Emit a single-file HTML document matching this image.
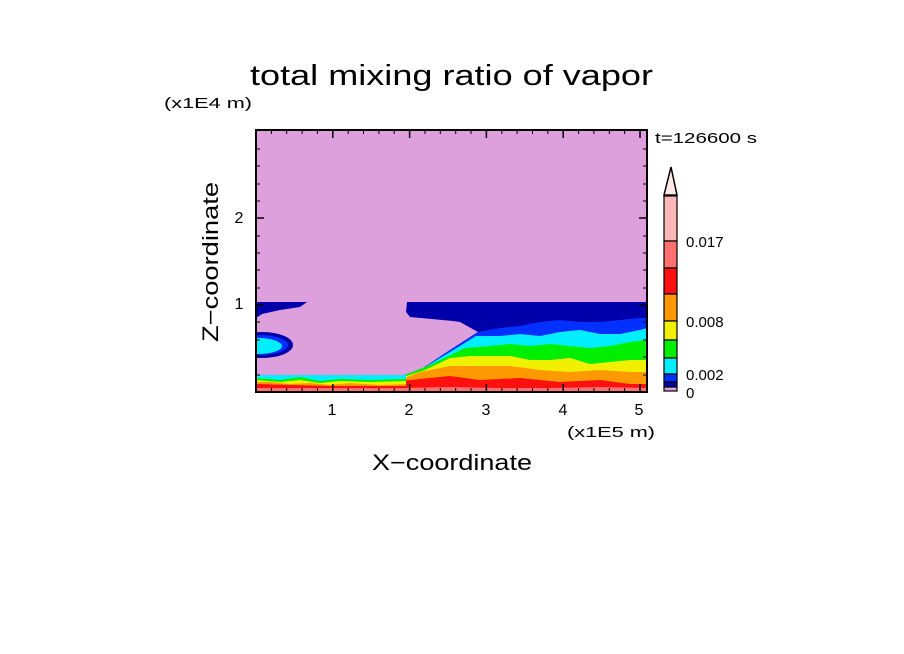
<!DOCTYPE html>
<html><head><meta charset="utf-8"><style>
html,body{margin:0;padding:0;background:#fff;}
svg{display:block;font-family:"Liberation Sans",sans-serif;}
</style></head><body>
<svg width="904" height="654" viewBox="0 0 904 654" xmlns="http://www.w3.org/2000/svg">
<rect width="904" height="654" fill="#fff"/>
<text x="250" y="85" font-size="29" textLength="403" lengthAdjust="spacingAndGlyphs">total mixing ratio of vapor</text>
<text x="164" y="108" font-size="15" textLength="88" lengthAdjust="spacingAndGlyphs">(x1E4 m)</text>
<text x="655" y="143" font-size="15" textLength="102" lengthAdjust="spacingAndGlyphs">t=126600 s</text>
<text x="567" y="437" font-size="15" textLength="88" lengthAdjust="spacingAndGlyphs">(x1E5 m)</text>
<text x="372" y="470" font-size="22" textLength="160" lengthAdjust="spacingAndGlyphs">X−coordinate</text>
<text transform="translate(218,342) rotate(-90)" font-size="22" textLength="160" lengthAdjust="spacingAndGlyphs">Z−coordinate</text>
<g font-size="16" text-anchor="middle">
<text x="332" y="415">1</text><text x="409" y="415">2</text><text x="486" y="415">3</text><text x="563" y="415">4</text><text x="639" y="415">5</text>
<text x="239" y="309">1</text><text x="239" y="223">2</text>
</g>
<clipPath id="c"><rect x="256" y="130" width="391" height="262"/></clipPath>
<g clip-path="url(#c)">
<rect x="256" y="130" width="391" height="262" fill="#dda0dd"/>
<polygon points="256,302 307,302 300,307 280,310 262,314 256,318" fill="#0000aa"/>
<ellipse cx="262" cy="345" rx="31" ry="13" fill="#0000aa"/>
<ellipse cx="260" cy="345" rx="28" ry="10" fill="#0030ff"/>
<ellipse cx="258" cy="346" rx="24" ry="8" fill="#00eeff"/>
<polygon points="407,302 647,302 647,392 400,392 400,376 420,370 450,350 478,332 460,322 453,321 410,317 406,312" fill="#0000aa"/>
<polygon points="478,332 500,328 520,326 540,322 560,320 580,322 600,322 620,320 640,318 647,318 647,392 400,392 400,376 420,370 450,350" fill="#0030ff"/>
<polygon points="476,336 500,336 520,334 540,336 560,332 580,330 600,334 620,334 640,330 647,328 647,392 400,392 400,376 420,370 450,352" fill="#00eeff"/>
<polygon points="465,348 490,346 510,344 530,346 550,344 570,346 590,348 610,346 630,342 647,340 647,392 400,392 400,377 430,365" fill="#00ee00"/>
<polygon points="450,358 470,356 490,356 510,356 530,360 550,360 570,358 590,364 610,362 630,360 647,360 647,392 400,392 400,378 425,370" fill="#f0f000"/>
<polygon points="405,378 420,372 450,366 480,366 510,366 540,370 570,372 600,370 630,372 647,372 647,392 400,392" fill="#ff9900"/>
<polygon points="400,381 450,376 480,380 520,378 560,382 600,380 630,384 647,384 647,392 400,392" fill="#ff1010"/>
<polygon points="400,388 450,387 500,388 550,388 600,387 647,388 647,392 400,392" fill="#ff7070"/>
<rect x="256" y="375" width="150" height="17" fill="#00eeff"/>
<polygon points="256,378 280,380 300,377 320,381 340,379 370,380 406,379 406,392 256,392" fill="#00ee00"/>
<polygon points="256,380 280,382 300,380 320,383 340,381 370,382 406,381 406,392 256,392" fill="#f0f000"/>
<polygon points="256,382 270,382 290,384 310,383 330,385 350,383 380,385 406,384 406,392 256,392" fill="#ff9900"/>
<polygon points="256,384 330,386 406,386 406,392 256,392" fill="#ff1010"/>
<rect x="256" y="388" width="150" height="4" fill="#ff7070"/>
</g>
<rect x="256" y="130" width="391" height="262" fill="none" stroke="#000" stroke-width="2"/>
<g stroke="#000" stroke-width="1.5">
<path d="M332.8,392v-8M409.6,392v-8M486.4,392v-8M563.2,392v-8M640,392v-8M332.8,130v8M409.6,130v8M486.4,130v8M563.2,130v8M640,130v8"/>
<path d="M256,305h8M256,218h8M647,305h-8M647,218h-8"/>
</g>
<g stroke="#000" stroke-width="1">
<path d="M271.4,392v-4M286.7,392v-4M302.1,392v-4M317.4,392v-4M348.2,392v-4M363.5,392v-4M378.9,392v-4M394.2,392v-4M425,392v-4M440.3,392v-4M455.7,392v-4M471,392v-4M501.8,392v-4M517.1,392v-4M532.5,392v-4M547.8,392v-4M578.6,392v-4M593.9,392v-4M609.3,392v-4M624.6,392v-4"/>
<path d="M271.4,130v4M286.7,130v4M302.1,130v4M317.4,130v4M348.2,130v4M363.5,130v4M378.9,130v4M394.2,130v4M425,130v4M440.3,130v4M455.7,130v4M471,130v4M501.8,130v4M517.1,130v4M532.5,130v4M547.8,130v4M578.6,130v4M593.9,130v4M609.3,130v4M624.6,130v4"/>
<path d="M256,375h4M256,357h4M256,340h4M256,322h4M256,288h4M256,270h4M256,253h4M256,236h4M256,201h4M256,184h4M256,166h4M256,149h4M647,375h-4M647,357h-4M647,340h-4M647,322h-4M647,288h-4M647,270h-4M647,253h-4M647,236h-4M647,201h-4M647,184h-4M647,166h-4M647,149h-4"/>
</g>
<polygon points="671,167 664,195 677,195" fill="#ffe8e8" stroke="#000" stroke-width="1.5"/>
<g stroke="#000" stroke-width="1.2">
<rect x="664" y="196" width="13" height="45" fill="#ffb8b8"/>
<rect x="664" y="241" width="13" height="27" fill="#ff7070"/>
<rect x="664" y="268" width="13" height="26" fill="#ff1010"/>
<rect x="664" y="294" width="13" height="27" fill="#ff9900"/>
<rect x="664" y="321" width="13" height="19" fill="#f0f000"/>
<rect x="664" y="340" width="13" height="18" fill="#00ee00"/>
<rect x="664" y="358" width="13" height="16" fill="#00eeff"/>
<rect x="664" y="374" width="13" height="8" fill="#0030ff"/>
<rect x="664" y="382" width="13" height="5" fill="#0000aa"/>
<rect x="664" y="387" width="13" height="4" fill="#dda0dd"/>
</g>
<g font-size="15">
<text x="686" y="247">0.017</text>
<text x="686" y="327">0.008</text>
<text x="686" y="380">0.002</text>
<text x="686" y="398">0</text>
</g>
</svg>
</body></html>
